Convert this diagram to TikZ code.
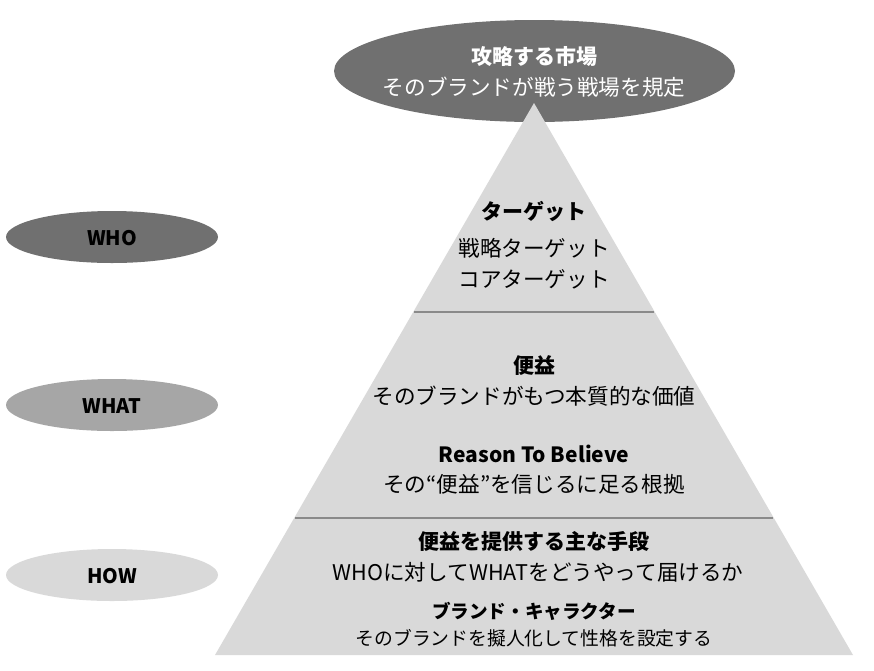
\documentclass[tikz,border=0pt]{standalone}
\usepackage{fontspec}
\setmainfont{Noto Sans CJK JP}
\definecolor{graydark}{HTML}{707070}
\definecolor{graymid}{HTML}{A6A6A6}
\definecolor{graylight}{HTML}{D9D9D9}
\definecolor{grayline}{HTML}{8A8A8A}

\begin{document}
\begin{tikzpicture}[x=1pt, y=-1pt,
  headtext/.style={font=\bfseries\fontsize{21}{25}\selectfont, inner sep=0pt},
  bodytext/.style={font=\fontsize{21.6}{25}\selectfont, inner sep=0pt},
  subhead/.style={font=\bfseries\fontsize{18.6}{22}\selectfont, inner sep=0pt},
  subbody/.style={font=\fontsize{18.8}{22}\selectfont, inner sep=0pt},
  sidetext/.style={font=\bfseries\fontsize{20}{24}\selectfont, inner sep=0pt},
  sepline/.style={grayline, line width=1.5pt}]
  \useasboundingbox (0,0) rectangle (874,670);

  % market ellipse and pyramid
  \fill[graydark] (534.5,71) ellipse (200.5 and 51);
  \fill[graylight] (534,103) -- (853,655) -- (215,655) -- cycle;
  \draw[sepline] (414,312) -- (654,312);
  \draw[sepline] (295,518) -- (773,518);

  % side ellipses
  \fill[graydark] (112,237) ellipse (106 and 26);
  \fill[graymid] (112,405) ellipse (106 and 26);
  \fill[graylight] (112,575) ellipse (106 and 26);
  \node[sidetext] (who) at (112,238) {WHO};
  \node[sidetext] (what) at (112,406) {WHAT};
  \node[sidetext] (how) at (112,576) {HOW};

  % market
  \node[headtext, white] (market) at (534,57) {攻略する市場};
  \node[bodytext, white] (marketsub) at (534,87) {そのブランドが戦う戦場を規定};

  % target
  \node[headtext] (target) at (534,211) {ターゲット};
  \node[bodytext] (target1) at (534,248) {戦略ターゲット};
  \node[bodytext] (target2) at (534,279) {コアターゲット};

  % benefit
  \node[headtext] (benefit) at (534,366) {便益};
  \node[bodytext] (benefitsub) at (534,396) {そのブランドがもつ本質的な価値};
  \node[headtext] (rtb) at (534,454) {Reason To Believe};
  \node[bodytext] (rtbsub) at (534,484) {その“便益”を信じるに足る根拠};

  % means
  \node[headtext] (means) at (534,541) {便益を提供する主な手段};
  \node[bodytext] (meanssub) at (538,572) {WHOに対してWHATをどうやって届けるか};
  \node[subhead] (chara) at (534,611) {ブランド・キャラクター};
  \node[subbody] (charasub) at (534,638) {そのブランドを擬人化して性格を設定する};
\end{tikzpicture}
\end{document}
